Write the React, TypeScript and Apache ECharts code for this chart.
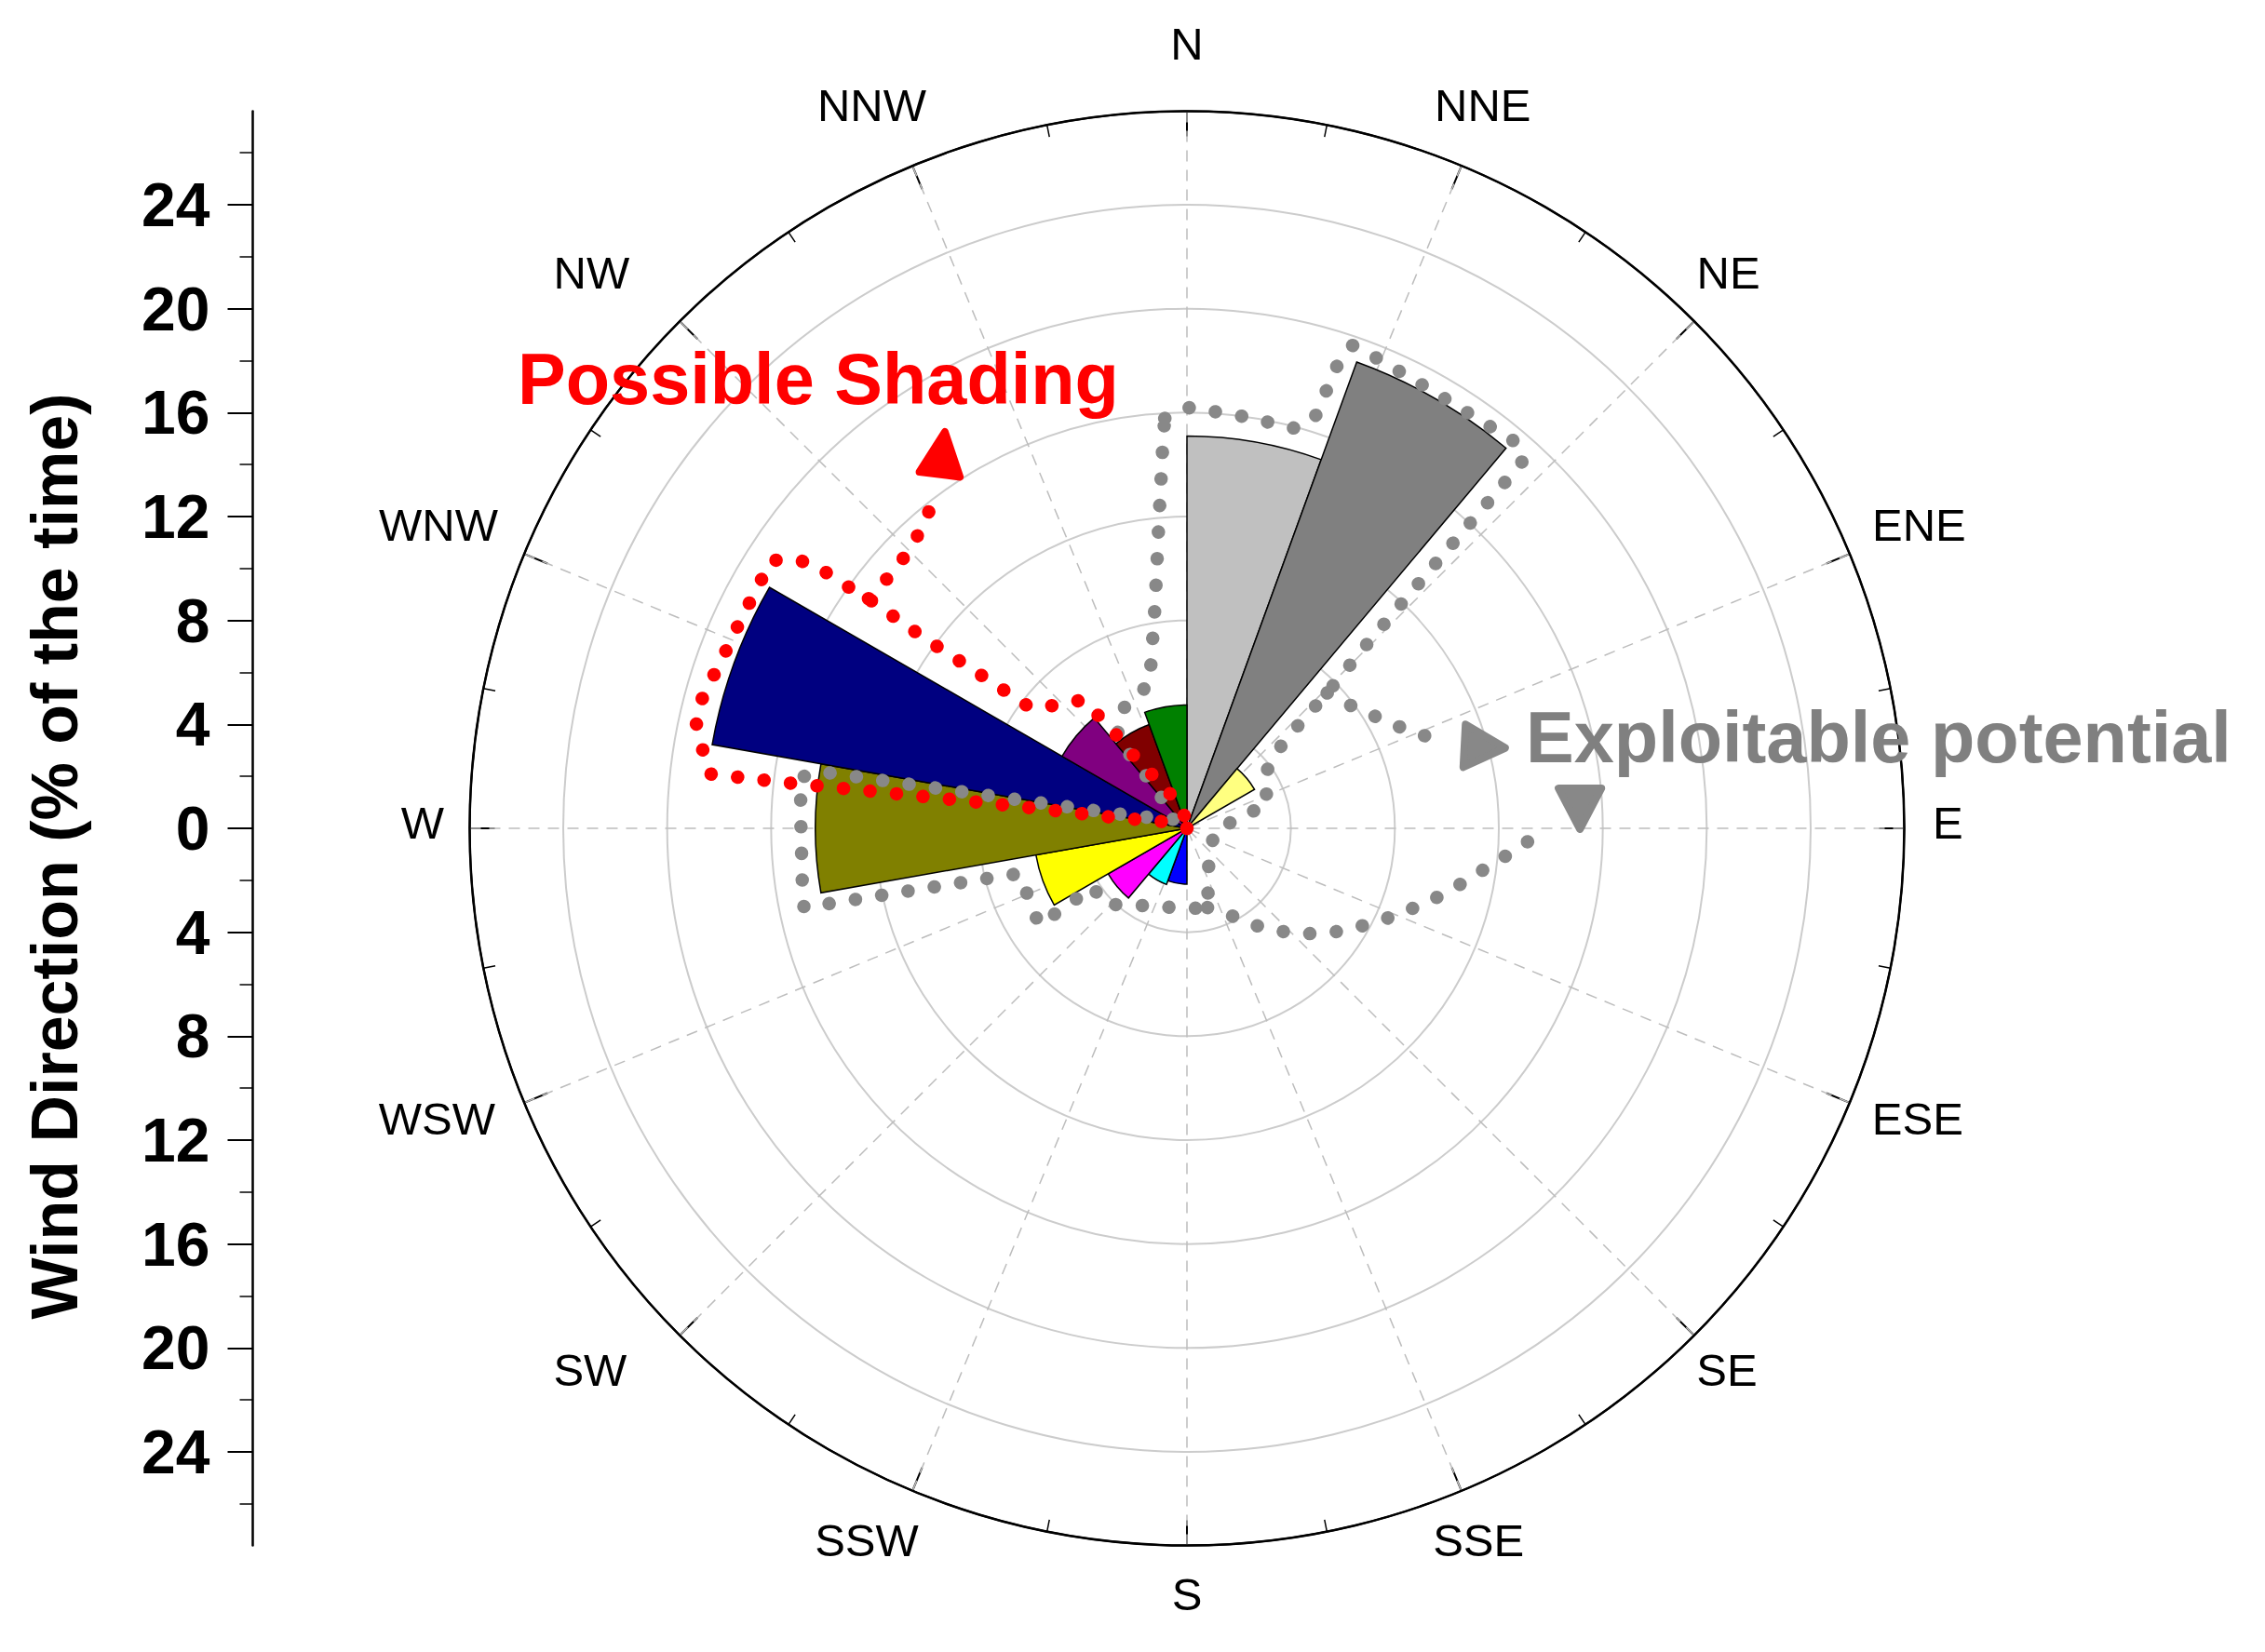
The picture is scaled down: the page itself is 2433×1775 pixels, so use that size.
import React, { useEffect, useRef } from 'react';
import * as echarts from 'echarts';

// ---------- data ----------
const directions = ['N', 'NNE', 'NE', 'ENE', 'E', 'ESE', 'SE', 'SSE', 'S', 'SSW', 'SW', 'WSW', 'W', 'WNW', 'NW', 'NNW'];
const sectorStarts = ['0', '20', '40', '60', '80', '100', '120', '140', '160', '180', '200', '220', '240', '260', '280', '300', '320', '340'];
const frequencies = [15.1, 19.1, 3.0, 0, 0, 0, 0, 0, 0, 2.15, 2.3, 3.5, 5.9, 14.3, 18.55, 5.55, 4.25, 4.75];
const sectorColors = ['#C0C0C0', '#808080', '#FFFF80', '#FFFFFF', '#FFFFFF', '#FFFFFF', '#FFFFFF', '#FFFFFF', '#FFFFFF',
  '#0000FF', '#00FFFF', '#FF00FF', '#FFFF00', '#808000', '#000080', '#800080', '#800000', '#008000'];
const radialMax = 27.6;
const leftTickValues = [-24, -20, -16, -12, -8, -4, 0, 4, 8, 12, 16, 20, 24];
const leftMinorValues = [-26, -22, -18, -14, -10, -6, -2, 2, 6, 10, 14, 18, 22, 26];

// annotation outlines, [radius, angle(deg clockwise from N)]
const exploitLoop = [
  [15.8, 356.9], [16.2, 0.4], [16.0, 7.7], [15.95, 15.3], [16.6, 17.3], [18.8, 18.0], [19.65, 18.9],
  [19.5, 22.4], [19.3, 29.3], [19.35, 36.5], [19.5, 40.0], [19.3, 42.4], [17.9, 42.6], [13.9, 43.2],
  [9.8, 44.4], [7.5, 46.0], [5.75, 47.3], [4.5, 49.5], [3.45, 57.3], [3.3, 73.0], [2.2, 77.8],
  [1.1, 93.8], [1.3, 139.4], [2.2, 158.0], [3.15, 165.5], [3.1, 182.0], [3.2, 200.9], [3.7, 216.8],
  [4.35, 228.0], [4.25, 238.0], [6.8, 236.8], [6.65, 246.2], [6.7, 254.9], [7.75, 255.8], [15.05, 258.3],
  [14.95, 261.9], [14.85, 269.7], [15.0, 277.5], [14.3, 278.8], [2.85, 281.6], [0.95, 291.8], [0.6, 305],
  [1.85, 322.0], [4.4, 322.3], [5.2, 331.1], [5.75, 345.5], [8.7, 351.9], [11.75, 354.7], [14.8, 356.4],
  [15.8, 356.9]
];
const exploitBranch = [[7.5, 46.0], [7.95, 54.2], [8.6, 60.8], [9.3, 66.1], [10.15, 70.2]];
const exploitArc = [
  [3.15, 165.5], [3.55, 156], [4.45, 146.2], [5.3, 138.3], [6.1, 131.7], [6.85, 125.9], [7.6, 120],
  [8.4, 114.5], [9.2, 109.6], [10.05, 105.1], [10.9, 100.8], [11.8, 96.8], [12.85, 93.2], [13.85, 89.9]
];
const shadingLoop = [
  [0, 0], [0.86, 286.9], [2.93, 278.4], [6.07, 277.5], [9.16, 277.0], [12.26, 276.7], [15.39, 276.5],
  [18.49, 276.5], [18.92, 279.5], [19.36, 282.4], [19.3, 285.6], [19.08, 288.9], [18.98, 292.4],
  [18.95, 295.9], [18.94, 299.3], [19.05, 302.8], [18.18, 304.6], [17.55, 305.3], [16.31, 305.4],
  [15.11, 305.8], [12.57, 305.9], [10.09, 306.6], [7.64, 307.6], [6.92, 313.1], [6.37, 320.9],
  [4.96, 322.6], [3.56, 323.6], [2.19, 328.4], [0.84, 347.7], [0, 0]
];
const shadingStem = [[15.11, 305.8], [15.0, 311.2], [15.17, 315.9], [15.58, 319.9], [16.18, 323.5]];
const shadingArrow = [17.24, 326.9];
const exploitArrowRight = [11.88, 74.7];
const exploitArrowDown = [15.14, 87.15];

const FONT = "'Liberation Sans', Arial, Helvetica, sans-serif";

// per-label text padding [top, right, bottom, left] (style only)
const labelPadding: Record<string, number[]> = {
  N: [0, 0, 148, 0],
  NNE: [0, 0, 133, 9.5],
  NE: [0, 0, 98.6, 73.5],
  ENE: [0, 0, 44.5, 116.5],
  E: [0, 0, 12, 130.5],
  ESE: [31, 0, 0, 116.4],
  SE: [83.4, 0, 0, 73.2],
  SSE: [121.2, 0, 0, 7.6],
  S: [128.4, 0, 0, 0],
  SSW: [121.2, 31.6, 0, 0],
  SW: [83.4, 127.5, 0, 0],
  WSW: [31, 123.5, 0, 0],
  W: [0, 127.5, 12, 0],
  WNW: [0, 120.6, 44.5, 0],
  NW: [0, 124.7, 98.6, 0],
  NNW: [0, 23.4, 133.2, 0]
};

export default function App() {
  const ref = useRef<HTMLDivElement>(null);

  useEffect(() => {
    if (!ref.current) return;
    const chart = echarts.init(ref.current, undefined, { renderer: 'svg' });

    const dotted = (color: string) => ({
      color,
      width: 14.5,
      type: [0.1, 28.5],
      cap: 'round',
      join: 'round'
    });

    const rich: Record<string, any> = {};
    directions.forEach((d) => {
      rich[d] = { fontSize: 49, fontFamily: FONT, color: '#000000', padding: labelPadding[d] };
    });

    const option: any = {
      animation: false,
      backgroundColor: '#FFFFFF',
      polar: [
        { center: [1275, 890], radius: 770.5 },
        { center: [1275, 890], radius: 770.5 }
      ],
      angleAxis: [
        {
          polarIndex: 0,
          type: 'value',
          min: 0,
          max: 360,
          interval: 22.5,
          startAngle: 90,
          clockwise: true,
          axisLine: { show: true, lineStyle: { color: '#000000', width: 2.5 } },
          axisTick: { show: true, inside: true, length: 27, lineStyle: { color: '#000000', width: 2 } },
          minorTick: { show: true, splitNumber: 2, length: 13, lineStyle: { color: '#000000', width: 1.5 } },
          axisLabel: {
            show: true,
            margin: -100,
            color: '#000000',
            fontSize: 49,
            fontFamily: FONT,
            formatter: (v: number) => {
              const idx = Math.round(v / 22.5);
              if (idx >= 16) return '';
              const name = directions[idx];
              return '{' + name + '|' + name + '}';
            },
            rich
          },
          splitLine: { show: true, lineStyle: { color: '#BDBDBD', width: 1.5, type: [12, 9] } }
        },
        {
          polarIndex: 1,
          type: 'category',
          data: sectorStarts,
          startAngle: 90,
          clockwise: true,
          boundaryGap: true,
          axisLine: { show: false },
          axisTick: { show: false },
          axisLabel: { show: false },
          splitLine: { show: false }
        }
      ],
      radiusAxis: [
        {
          polarIndex: 0,
          type: 'value',
          min: 0,
          max: radialMax,
          interval: 4,
          axisLine: { show: false },
          axisTick: { show: false },
          axisLabel: { show: false },
          splitLine: {
            show: true,
            lineStyle: {
              color: ['#CCCCCC', '#CCCCCC', '#CCCCCC', '#CCCCCC', '#CCCCCC', '#CCCCCC', '#CCCCCC', '#000000'],
              width: 2
            }
          }
        },
        {
          polarIndex: 1,
          type: 'value',
          min: 0,
          max: radialMax,
          axisLine: { show: false },
          axisTick: { show: false },
          axisLabel: { show: false },
          splitLine: { show: false }
        }
      ],
      grid: { left: 271.5, top: 119.5, width: 10, height: 1541 },
      xAxis: { type: 'value', gridIndex: 0, show: false, min: 0, max: 1 },
      yAxis: [
        {
          type: 'value',
          gridIndex: 0,
          position: 'left',
          min: -radialMax,
          max: radialMax,
          axisLine: { show: true, onZero: false, lineStyle: { color: '#000000', width: 2.5 } },
          axisTick: { show: true, customValues: leftTickValues, length: 27, lineStyle: { color: '#000000', width: 2 } },
          axisLabel: {
            show: true,
            customValues: leftTickValues,
            formatter: (v: number) => String(Math.abs(Math.round(v))),
            margin: 46,
            color: '#000000',
            fontSize: 66,
            fontWeight: 'bold',
            fontFamily: FONT
          },
          splitLine: { show: false },
          name: 'Wind Direction (% of the time)',
          nameLocation: 'middle',
          nameRotate: 90,
          nameGap: 178,
          nameTextStyle: { fontSize: 70, fontWeight: 'bold', color: '#000000', fontFamily: FONT, padding: [0, 60, 0, 0] }
        },
        {
          type: 'value',
          gridIndex: 0,
          position: 'left',
          min: -radialMax,
          max: radialMax,
          axisLine: { show: false, onZero: false },
          axisTick: { show: true, customValues: leftMinorValues, length: 14, lineStyle: { color: '#000000', width: 1.5 } },
          axisLabel: { show: false },
          splitLine: { show: false }
        }
      ],
      series: [
        {
          type: 'bar',
          coordinateSystem: 'polar',
          polarIndex: 1,
          barCategoryGap: '0%',
          data: frequencies.map((v, i) => ({ value: v, itemStyle: { color: sectorColors[i] } })),
          itemStyle: { borderColor: '#000000', borderWidth: 1.5 },
          silent: true,
          z: 3
        },
        {
          type: 'line', coordinateSystem: 'polar', polarIndex: 0, data: exploitLoop,
          symbol: 'none', showSymbol: false, silent: true, clip: false, lineStyle: dotted('#888888'), z: 5
        },
        {
          type: 'line', coordinateSystem: 'polar', polarIndex: 0, data: exploitBranch,
          symbol: 'none', showSymbol: false, silent: true, clip: false, lineStyle: dotted('#888888'), z: 5
        },
        {
          type: 'line', coordinateSystem: 'polar', polarIndex: 0, data: exploitArc,
          symbol: 'none', showSymbol: false, silent: true, clip: false, lineStyle: dotted('#888888'), z: 5
        },
        {
          type: 'scatter', coordinateSystem: 'polar', polarIndex: 0, silent: true, clip: false,
          symbol: 'triangle', symbolSize: [46, 44],
          data: [
            { value: exploitArrowRight, symbolRotate: -93 },
            { value: exploitArrowDown, symbolRotate: 180 }
          ],
          itemStyle: { color: '#888888', opacity: 1, borderColor: '#888888', borderWidth: 8, borderJoin: 'round' },
          z: 6
        },
        {
          type: 'line', coordinateSystem: 'polar', polarIndex: 0, data: shadingLoop,
          symbol: 'none', showSymbol: false, silent: true, clip: false, lineStyle: dotted('#FF0000'), z: 7
        },
        {
          type: 'line', coordinateSystem: 'polar', polarIndex: 0, data: shadingStem,
          symbol: 'none', showSymbol: false, silent: true, clip: false, lineStyle: dotted('#FF0000'), z: 7
        },
        {
          type: 'scatter', coordinateSystem: 'polar', polarIndex: 0, silent: true, clip: false,
          symbol: 'triangle', symbolSize: [44, 46],
          data: [{ value: shadingArrow, symbolRotate: -7 }],
          itemStyle: { color: '#FF0000', opacity: 1, borderColor: '#FF0000', borderWidth: 8, borderJoin: 'round' },
          z: 8
        }
      ],
      graphic: [
        {
          type: 'text',
          x: 556,
          y: 407,
          z: 10,
          style: {
            text: 'Possible Shading',
            fill: '#FF0000',
            font: 'bold 77.5px ' + FONT,
            align: 'left',
            verticalAlign: 'middle'
          }
        },
        {
          type: 'text',
          x: 1639,
          y: 792,
          z: 10,
          style: {
            text: 'Exploitable potential',
            fill: '#808080',
            font: 'bold 77.5px ' + FONT,
            align: 'left',
            verticalAlign: 'middle'
          }
        }
      ]
    };

    chart.setOption(option);
    return () => {
      chart.dispose();
    };
  }, []);

  return (
    <div
      ref={ref}
      style={{ position: 'absolute', left: 0, top: 0, width: 2433, height: 1775, background: '#FFFFFF' }}
    />
  );
}
